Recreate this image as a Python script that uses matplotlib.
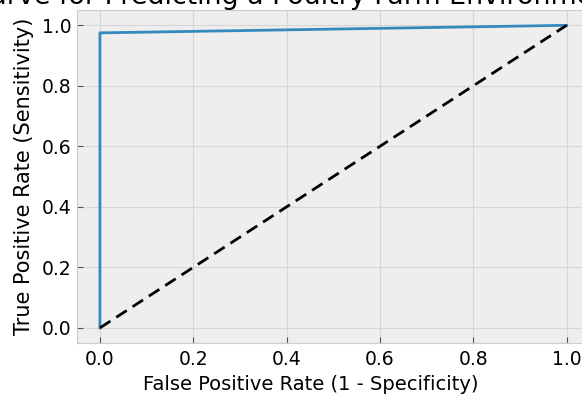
import numpy as np
import matplotlib
matplotlib.use('Agg')
import matplotlib.pyplot as plt

plt.style.use('bmh')

fpr = [0.0, 0.0, 1.0]
tpr = [0.0, 0.975, 1.0]
diag = [0.0, 1.0]
title = 'ROC Curve for Predicting a Poultry Farm Environment'

fig = plt.figure(figsize=(5.82, 4.01), dpi=100)
ax = fig.add_axes([0.1316, 0.1446, 0.882, 0.830])
ax.plot(fpr, tpr, color='#348ABD', lw=2)
ax.plot(diag, diag, 'k--', lw=2, dashes=(4.5, 2.5))
ax.set_xlim(-0.05, 1.05)
ax.set_ylim(-0.05, 1.05)
ax.set_xticks(np.arange(0, 1.01, 0.2))
ax.set_yticks(np.arange(0, 1.01, 0.2))
ax.grid(True, linestyle='-', color='#d6d6d6', lw=0.8)
ax.tick_params(labelsize=13.5, length=4, width=0.8, color='#555555')
ax.tick_params(axis='x', pad=5)
ax.set_xlabel('False Positive Rate (1 - Specificity)', fontsize=14)
ax.xaxis.set_label_coords(0.4566, -0.095)
ax.set_ylabel('True Positive Rate (Sensitivity)', fontsize=15, labelpad=6)
for s in ax.spines.values():
    s.set_color('#cccccc')
    s.set_linewidth(0.8)

# title is wider than the figure and gets cut at the edges
fig.text(-0.165, 0.99, title, fontsize=19.4, ha='left', va='baseline')

fig.savefig('out.png', dpi=100, facecolor='white')
